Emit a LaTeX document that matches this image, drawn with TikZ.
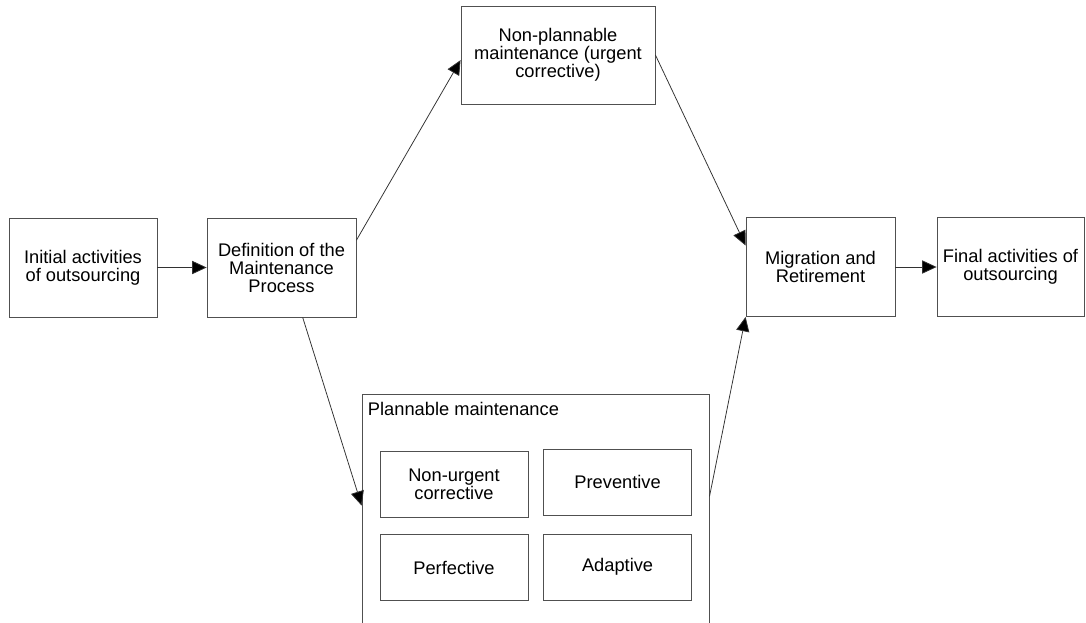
\documentclass[tikz,border=0pt]{standalone}
\usepackage{fontspec}
\setmainfont{Liberation Sans}
\usepackage{tikz}
\usetikzlibrary{shapes,arrows,positioning,calc,arrows.meta}
\definecolor{frameGray}{RGB}{80, 80, 80}
\definecolor{lineGray}{RGB}{50, 50, 50}
\newcommand{\boxfont}{\fontsize{13}{12.8}\selectfont}

\begin{document}
\begin{tikzpicture}[
                stage/.style={draw=frameGray,line width=0.6pt,minimum width=3.7cm,minimum height=2.475cm,
                              font=\boxfont,align=center,inner sep=2pt,text=black},
                subtype/.style={stage,minimum height=1.65cm},
                flow/.style={draw=lineGray,line width=0.55pt,-{Triangle[length=3.6mm,width=3.3mm,fill=black]}}
            ]
                \clip (0,0) rectangle (27.15,-15.55);
                \node[stage] (init) at (2.075,-6.6875) {Initial activities\\of outsourcing};
                \node[stage,minimum width=3.725cm] (defproc) at (7.0375,-6.6875) {Definition of the\\Maintenance\\Process};
                \node[stage,minimum width=4.85cm,minimum height=2.45cm] (nonplan) at (13.95,-1.375) {
                    Non-plannable\\maintenance (urgent\\corrective)
                };
                \node[stage,minimum width=8.675cm,minimum height=6.65cm] (plannable) at (13.39,-13.175) {};
                \node[font=\boxfont,anchor=north west,inner sep=0pt] (plantitle)
                    at ($(plannable.north west)+(0.15,-0.22)$) {Plannable maintenance};
                \node[subtype] (nonurg) at (11.35,-12.1) {Non-urgent\\corrective};
                \node[subtype] (prevent) at (15.44,-12.06) {Preventive};
                \node[subtype] (perfect) at (11.35,-14.19) {Perfective};
                \node[subtype] (adapt) at (15.44,-14.175) {Adaptive};
                \node[stage,minimum width=3.725cm] (migrate) at (20.5125,-6.675) {Migration and\\Retirement};
                \node[stage,minimum width=3.675cm] (final) at (25.2625,-6.675) {Final activities of\\outsourcing};

                \draw[flow] (init.east) -- (defproc.west);
                \draw[flow] (defproc.20) -- (nonplan.183);
                \draw[flow] (defproc.-67) -- (plannable.173);
                \draw[flow] (nonplan.east) -- (migrate.164);
                \draw[flow] (plannable.10) -- (migrate.south west);
                \draw[flow] (migrate.east) -- (final.west);
            \end{tikzpicture}
\end{document}
